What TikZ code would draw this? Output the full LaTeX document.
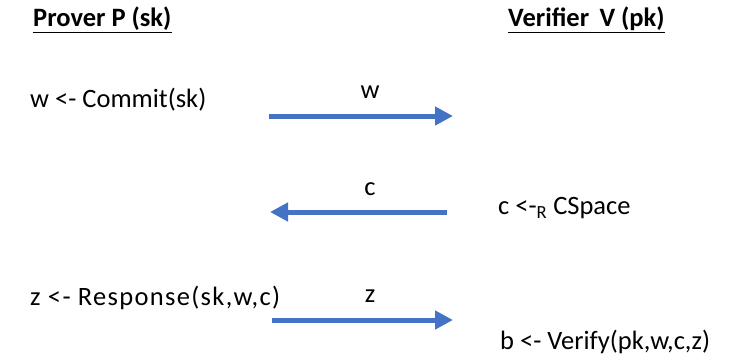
\documentclass[tikz,border=0pt]{standalone}
\usepackage{fontspec}
\setmainfont{Carlito}
\usepackage{xcolor}
\usetikzlibrary{arrows.meta,positioning}
\definecolor{msgblue}{HTML}{4472C4}
\tikzset{
  lbl/.style={anchor=west, inner sep=0pt, font=\fontsize{26.5}{30}\selectfont},
  party/.style={anchor=west, inner sep=0pt, font=\fontsize{26.5}{30}\selectfont\bfseries},
  msg/.style={msgblue, line width=5pt, -{Triangle[length=18pt,width=18pt]}},
  msglbl/.style={inner sep=0pt, font=\fontsize{26.5}{30}\selectfont}
}
\begin{document}
\begin{tikzpicture}[x=1pt,y=-1pt]
  \useasboundingbox (0,0) rectangle (741,357);
  % parties
  \node[party] (prover) at (33,20) {\underline{Prover P (sk)}};
  \node[party] (verifier) at (508,20) {\underline{Verifier\, V (pk)}};
  % round 1: commitment
  \node[lbl] (commit) at (30,100) {w <- Commit(sk)};
  \coordinate (w0) at (269,116);
  \coordinate (w1) at (453,116);
  \draw[msg] (w0) -- (w1);
  \node[msglbl] (wlbl) at (370,92) {w};
  % round 2: challenge
  \node[lbl] (chal) at (498,208) {c <-\textsubscript{R} CSpace};
  \coordinate (c0) at (447,212);
  \coordinate (c1) at (270,212);
  \draw[msg] (c0) -- (c1);
  \node[msglbl] (clbl) at (370,189) {c};
  % round 3: response
  \node[lbl] (resp) at (30,298) {\addfontfeature{LetterSpace=5}z <- Response(sk,w,c)};
  \coordinate (z0) at (272,320);
  \coordinate (z1) at (453,320);
  \draw[msg] (z0) -- (z1);
  \node[msglbl] (zlbl) at (370,296) {z};
  % verification
  \node[lbl] (verify) at (500,342) {b <- Verify(pk,w,c,z)};
\end{tikzpicture}
\end{document}
